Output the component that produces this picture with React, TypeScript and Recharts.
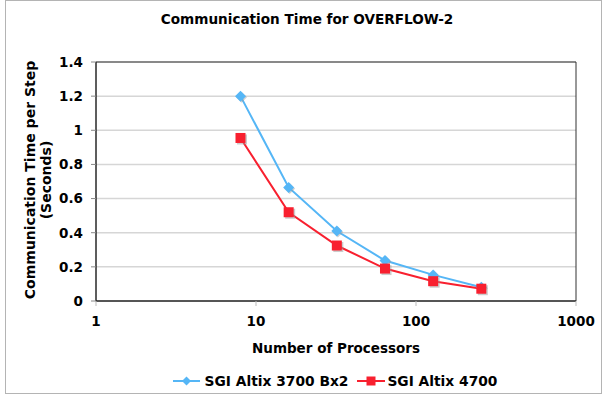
import React from 'react'
import { LineChart, Line, XAxis, YAxis, CartesianGrid, Legend, ReferenceArea } from 'recharts'

const processors = [8, 16, 32, 64, 128, 256]
const altix3700 = [1.2, 0.665, 0.41, 0.237, 0.153, 0.08]
const altix4700 = [0.955, 0.52, 0.325, 0.19, 0.116, 0.072]
const xTicks = [1, 10, 100, 1000]
const yTicks = [0, 0.2, 0.4, 0.6, 0.8, 1, 1.2, 1.4]

const data = processors.map((p, i) => ({ p, a3700: altix3700[i], a4700: altix4700[i] }))

const FONT = '"DejaVu Sans", Verdana, sans-serif'
const BLUE = '#55b6f6'
const RED = '#f8202f'

const Diamond = (props: any) => {
    const { cx, cy } = props
    if (cx == null || cy == null) return null
    const r = 5.5
    return (
        <g>
            <polygon points={`${cx + 1},${cy - r + 1} ${cx + r + 1},${cy + 1} ${cx + 1},${cy + r + 1} ${cx - r + 1},${cy + 1}`} fill="#999" opacity={0.45} />
            <polygon points={`${cx},${cy - r} ${cx + r},${cy} ${cx},${cy + r} ${cx - r},${cy}`} fill={BLUE} />
        </g>
    )
}

const Square = (props: any) => {
    const { cx, cy } = props
    if (cx == null || cy == null) return null
    const s = 10
    return (
        <g>
            <rect x={cx - s / 2 + 1.5} y={cy - s / 2 + 1.5} width={s} height={s} fill="#999" opacity={0.5} />
            <rect x={cx - s / 2} y={cy - s / 2} width={s} height={s} fill={RED} />
        </g>
    )
}

const LegendContent = () => (
    <div style={{ display: 'flex', justifyContent: 'center', alignItems: 'center', fontFamily: FONT, fontWeight: 'bold', fontSize: 13.8, color: '#000' }}>
        <svg width={27} height={12}>
            <line x1={0} y1={6} x2={27} y2={6} stroke={BLUE} strokeWidth={2} />
            <polygon points="13.5,1.5 18,6 13.5,10.5 9,6" fill={BLUE} />
        </svg>
        <span style={{ marginLeft: 5, marginRight: 9 }}>SGI Altix 3700 Bx2</span>
        <svg width={28} height={12}>
            <line x1={0} y1={6} x2={28} y2={6} stroke={RED} strokeWidth={2} />
            <rect x={9.5} y={1.5} width={9} height={9} fill={RED} />
        </svg>
        <span style={{ marginLeft: 2 }}>SGI Altix 4700</span>
    </div>
)

const YLabel = () => (
    <text transform="rotate(-90, 39, 180)" x={39} y={180} textAnchor="middle" fontFamily={FONT} fontWeight="bold" fontSize={14} fill="#000">
        <tspan x={39} dy={-4}>Communication Time per Step</tspan>
        <tspan x={39} dy={16}>(Seconds)</tspan>
    </text>
)

const XLabel = () => (
    <text x={336} y={353} textAnchor="middle" fontFamily={FONT} fontWeight="bold" fontSize={13.5} fill="#000">
        Number of Processors
    </text>
)

const App = () => {
    return (
        <div style={{ position: 'absolute', left: 0, top: 0, width: 602, height: 396, background: '#fff' }}>
            <div style={{ position: 'absolute', left: 5, top: 0, width: 595, height: 392, border: '1px solid #b4b4b4' }} />
            <div style={{ position: 'absolute', left: 0, top: 11, width: 614, textAlign: 'center', fontFamily: FONT, fontWeight: 'bold', fontSize: 13.6, color: '#000' }}>
                Communication Time for OVERFLOW-2
            </div>
            <div style={{ position: 'absolute', left: 0, top: 0 }}>
                <LineChart width={602} height={396} data={data} margin={{ top: 62, right: 26, left: 20, bottom: 50 }}>
                    <CartesianGrid vertical={false} stroke="#d6d6d6" strokeWidth={1.5} />
                    <ReferenceArea x1={1} x2={1000} y1={0} y2={1.4} fill="none" stroke="#333" strokeWidth={1} />
                    <XAxis
                        dataKey="p"
                        type="number"
                        scale="log"
                        domain={[1, 1000]}
                        ticks={xTicks}
                        allowDataOverflow
                        axisLine={{ stroke: '#222' }}
                        tickLine={{ stroke: '#bbb' }}
                        tickSize={5}
                        tickMargin={10}
                        height={45}
                        tick={{ fontFamily: FONT, fontWeight: 'bold', fontSize: 13.5, fill: '#000' }}
                        label={{ content: XLabel }}
                    />
                    <YAxis
                        type="number"
                        domain={[0, 1.4]}
                        ticks={yTicks}
                        width={76}
                        axisLine={{ stroke: '#222' }}
                        tickLine={{ stroke: '#888' }}
                        tickSize={5}
                        tickMargin={8}
                        tick={{ fontFamily: FONT, fontWeight: 'bold', fontSize: 13.5, fill: '#000' }}
                        label={{ content: YLabel }}
                    />
                    <Legend layout="horizontal" verticalAlign="middle" align="center" wrapperStyle={{ top: 373, left: 34, width: 602 }} content={LegendContent} />
                    <Line type="linear" dataKey="a3700" name="SGI Altix 3700 Bx2" stroke={BLUE} strokeWidth={2} dot={Diamond} activeDot={false} isAnimationActive={false} />
                    <Line type="linear" dataKey="a4700" name="SGI Altix 4700" stroke={RED} strokeWidth={2} dot={Square} activeDot={false} isAnimationActive={false} />
                </LineChart>
            </div>
        </div>
    )
}

export default App
